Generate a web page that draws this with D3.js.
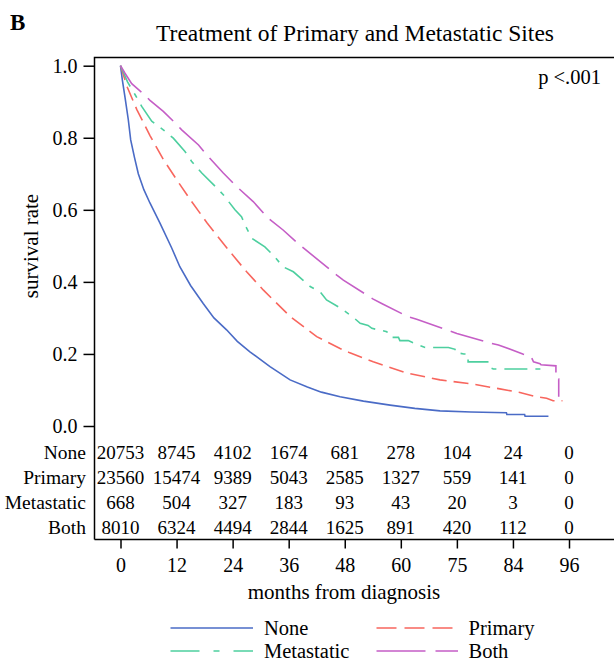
<!DOCTYPE html>
<html>
<head>
<meta charset="utf-8">
<script src="https://cdn.jsdelivr.net/npm/d3@7"></script>
<style>
  html, body { margin: 0; padding: 0; background: #fff; }
  svg text { font-family: "Liberation Serif", "Times New Roman", serif; fill: #000; }
</style>
</head>
<body>
<svg id="chart" width="614" height="662"></svg>
<script>
// ---------------- data ----------------
const tickMonths = [0, 12, 24, 36, 48, 60, 72, 84, 96];
const tickLabels = ["0", "12", "24", "36", "48", "60", "75", "84", "96"];
const yTicks = [0.0, 0.2, 0.4, 0.6, 0.8, 1.0];
const groups = ["None", "Primary", "Metastatic", "Both"];

const riskNone = [20753, 8745, 4102, 1674, 681, 278, 104, 24, 0];
const riskPrimary = [23560, 15474, 9389, 5043, 2585, 1327, 559, 141, 0];
const riskMetastatic = [668, 504, 327, 183, 93, 43, 20, 3, 0];
const riskBoth = [8010, 6324, 4494, 2844, 1625, 891, 420, 112, 0];

const curveNone = [[0,1],[0.4,0.96],[0.96,0.913],[1.67,0.85],[2.18,0.794],[3.0,0.745],[3.81,0.700],[5.0,0.656],[6.3,0.619],[8.45,0.563],[10.96,0.494],[12.7,0.442],[15,0.39],[17.7,0.34],[20,0.30],[22.7,0.267],[25,0.235],[27.7,0.206],[32,0.165],[36.3,0.128],[40,0.108],[43,0.094],[47,0.081],[52,0.069],[57.7,0.058],[63,0.049],[68.4,0.042],[75,0.039],[82.6,0.037],[82.7,0.032],[86.5,0.032],[86.6,0.027],[91.6,0.027]];

const curvePrimary = [[0,1],[1.46,0.94],[3.47,0.879],[6.31,0.806],[9.16,0.740],[12.0,0.684],[14.9,0.629],[18.5,0.564],[23.4,0.484],[27.0,0.428],[30.6,0.377],[36.3,0.304],[42.0,0.248],[47.0,0.215],[49.1,0.203],[54.1,0.178],[61.3,0.147],[68.4,0.128],[75.5,0.116],[81.2,0.103],[85.5,0.093],[89.1,0.081],[91.2,0.077],[92.6,0.070],[94.6,0.070]];

const curveMetastatic = [[0,1],[1.5,0.955],[3.10,0.920],[4.54,0.887],[6.68,0.846],[9.16,0.822],[11.3,0.799],[13.8,0.762],[15.2,0.735],[17.4,0.702],[19.9,0.670],[22.0,0.642],[24.5,0.600],[25.9,0.581],[27.0,0.549],[28.1,0.521],[30.9,0.497],[32.7,0.474],[34.8,0.442],[37.0,0.428],[40.6,0.387],[42.7,0.373],[44.1,0.350],[47.0,0.328],[49.8,0.302],[51.3,0.285],[53.0,0.279],[53.8,0.271],[57.0,0.262],[57.7,0.246],[59.5,0.246],[59.8,0.237],[61.6,0.237],[63.4,0.227],[65.2,0.218],[70.2,0.218],[71.6,0.213],[71.6,0.204],[73.5,0.200],[74.4,0.200],[74.4,0.178],[78.6,0.178],[78.6,0.165],[79.8,0.158],[90.6,0.158]];

const curveBoth = [[0,1],[0.96,0.979],[2.40,0.950],[4.54,0.926],[6.31,0.904],[9.16,0.873],[11.7,0.841],[13.1,0.822],[16.7,0.780],[18.5,0.752],[22.0,0.702],[24.9,0.664],[28.4,0.623],[31.6,0.577],[34.8,0.544],[38.4,0.502],[46.3,0.419],[47.7,0.405],[54.1,0.352],[55.9,0.340],[61.6,0.303],[63.4,0.296],[70.2,0.265],[72.0,0.257],[78.9,0.231],[80.9,0.225],[86.1,0.2],[87.9,0.192],[88.4,0.178],[89.8,0.173],[90.0,0.17],[93.2,0.167],[93.2,0.13],[93.8,0.13],[93.8,0.081]];

const colors = ["#4a6bc6", "#f8665e", "#4dcf9f", "#c55ec6"];
const plotDash = [null, "15,7", "23,8,5,8", "34,9"];
const legendDash = [null, "20,8", "29,14,6,14", "49,10"];

// ---------------- layout ----------------
const svg = d3.select("#chart");
const boxL = 94.5, boxT = 57.5, boxB = 539.5;

const x = d3.scaleLinear().domain([0, 96]).range([120.5, 569]);
const y = d3.scaleLinear().domain([0, 1]).range([426, 65.7]);

// box
svg.append("path")
  .attr("d", `M${boxL},${boxB}H620M${boxL},${boxB}V${boxT}H620`)
  .attr("fill", "none").attr("stroke", "#000").attr("stroke-width", 1.5);

// y axis
const yAxis = d3.axisLeft(y).tickValues(yTicks).tickFormat(d3.format(".1f"))
  .tickSize(11).tickPadding(6);
const gy = svg.append("g").attr("transform", `translate(${boxL},0)`).call(yAxis);
gy.select(".domain").remove();
gy.selectAll("line").attr("stroke", "#000").attr("stroke-width", 1.5);
gy.selectAll("text").attr("font-size", 20).attr("font-family", "Liberation Serif, serif");

// x axis
const xAxis = d3.axisBottom(x).tickValues(tickMonths)
  .tickFormat((d, i) => tickLabels[i]).tickSize(9).tickPadding(9.5);
const gx = svg.append("g").attr("transform", `translate(0,${boxB})`).call(xAxis);
gx.select(".domain").remove();
gx.selectAll("line").attr("stroke", "#000").attr("stroke-width", 1.5);
gx.selectAll("text").attr("font-size", 20).attr("font-family", "Liberation Serif, serif");

// curves
const line = d3.line().x(d => x(d[0])).y(d => y(d[1])).curve(d3.curveLinear);
const curves = [curveNone, curvePrimary, curveMetastatic, curveBoth];
curves.forEach((c, i) => {
  svg.append("path").datum(c)
    .attr("d", line)
    .attr("fill", "none")
    .attr("stroke", colors[i])
    .attr("stroke-width", 1.6)
    .attr("stroke-dasharray", plotDash[i]);
});

// risk table
const risks = [riskNone, riskPrimary, riskMetastatic, riskBoth];
const rowY = [452, 477, 502, 527];
groups.forEach((g, r) => {
  svg.append("text").attr("x", 86).attr("y", rowY[r]).attr("dy", "0.35em")
    .attr("text-anchor", "end").attr("font-size", 19.5).text(g);
  svg.selectAll(null).data(risks[r]).enter().append("text")
    .attr("x", (d, i) => x(tickMonths[i])).attr("y", rowY[r]).attr("dy", "0.35em")
    .attr("text-anchor", "middle").attr("font-size", 19).text(d => d);
});

// texts
svg.append("text").attr("x", 10).attr("y", 30).attr("font-size", 23)
  .attr("font-weight", "bold").text("B");
svg.append("text").attr("x", 355).attr("y", 41).attr("text-anchor", "middle")
  .attr("font-size", 23.5).text("Treatment of Primary and Metastatic Sites");
svg.append("text").attr("x", 601).attr("y", 84).attr("text-anchor", "end")
  .attr("font-size", 20.5).text("p <.001");
svg.append("text").attr("transform", "translate(38,246) rotate(-90)")
  .attr("text-anchor", "middle").attr("font-size", 21).text("survival rate");
svg.append("text").attr("x", 344).attr("y", 599).attr("text-anchor", "middle")
  .attr("font-size", 21).text("months from diagnosis");

// legend
const legPos = [[170.5, 253, 628], [376.5, 453, 628], [170.5, 253, 651], [376.5, 458, 651]];
const legText = [264, 468.5, 264, 468.5];
groups.forEach((g, i) => {
  const p = legPos[i];
  svg.append("line").attr("x1", p[0]).attr("x2", p[1]).attr("y1", p[2]).attr("y2", p[2])
    .attr("stroke", colors[i]).attr("stroke-width", 1.6)
    .attr("stroke-dasharray", legendDash[i]);
  svg.append("text").attr("x", legText[i]).attr("y", p[2]).attr("dy", "0.33em")
    .attr("font-size", 20.5).text(g);
});
</script>
</body>
</html>
